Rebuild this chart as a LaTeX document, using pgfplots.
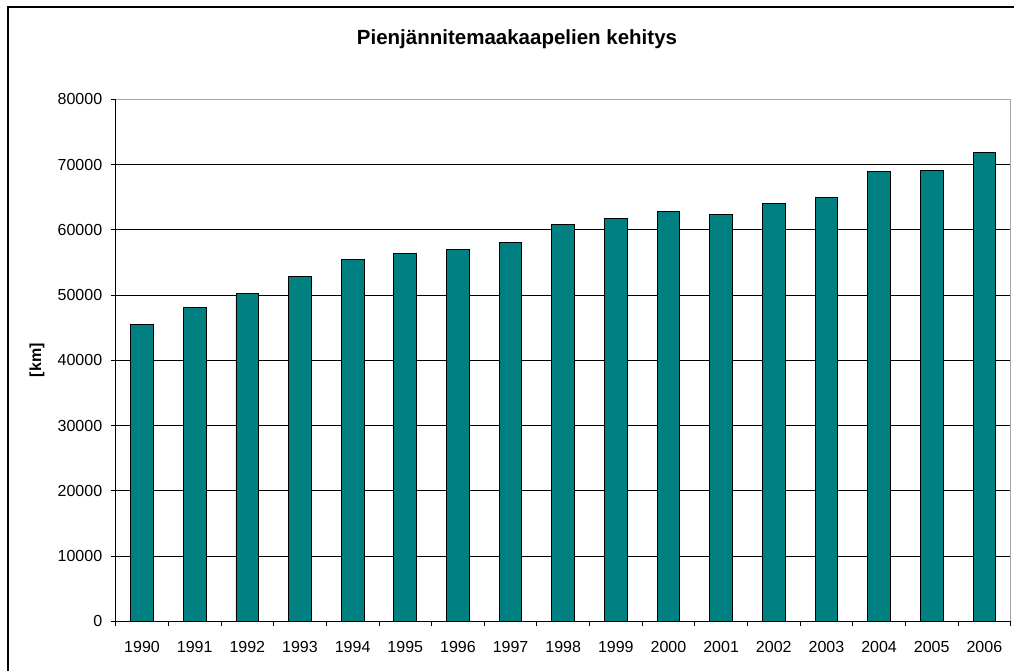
\documentclass[border=0pt]{standalone}
\usepackage{fontspec}
\setmainfont{Liberation Sans}
\usepackage{pgfplots}
\pgfplotsset{compat=1.18}
\definecolor{barteal}{HTML}{008080}
\begin{document}
\begin{tikzpicture}[x=1pt,y=1pt]
\path[use as bounding box] (0,0) rectangle (1014,671);
\draw[black, line width=1.3pt] (8,664) rectangle (1040,-30);
\node[font=\bfseries\fontsize{20.5}{24}\selectfont] at (517,632) {Pienjännitemaakaapelien kehitys};
\begin{axis}[
  at={(115.7pt,49.7pt)}, anchor=south west,
  scale only axis, width=895pt, height=522pt,
  xmin=-0.5, xmax=16.5, ymin=0, ymax=80000,
  ybar, bar width=22.7pt,
  xtick={0,...,16},
  xticklabels={1990,1991,1992,1993,1994,1995,1996,1997,1998,1999,2000,2001,2002,2003,2004,2005,2006},
  minor xtick={-0.5,0.5,...,16.5},
  ytick={0,10000,...,80000},
  xtick pos=bottom, ytick pos=left,
  scaled y ticks=false,
  yticklabel style={/pgf/number format/fixed, /pgf/number format/1000 sep={}},
  /pgf/number format/assume math mode=true,
  tick align=outside,
  major tick length=5pt, minor tick length=5pt,
  xtick style={draw=none},
  minor x tick style={draw=black, line width=0.8pt},
  y tick style={draw=black, line width=0.8pt},
  ymajorgrids, major grid style={black, line width=0.8pt},
  axis line style={draw=gray!70, line width=1pt},
  tick label style={font=\fontsize{16}{19}\selectfont},
  xticklabel style={yshift=-11pt},
  yticklabel style={xshift=-5pt},
  ylabel={[km]},
  ylabel style={at={(axis description cs:0,0.5)}, anchor=center, yshift=78.7pt, font=\bfseries\fontsize{16}{19}\selectfont},
  clip=false,
]
\addplot[fill=barteal, draw=black, line width=0.9pt] coordinates {
(0,45500) (1,48100) (2,50200) (3,52800) (4,55400) (5,56400) (6,57000) (7,58000) (8,60800)
(9,61700) (10,62800) (11,62300) (12,64100) (13,64900) (14,68900) (15,69100) (16,71900)
};
\draw[black, line width=1pt] (rel axis cs:0,1) -- (rel axis cs:0,0) -- (rel axis cs:1,0);
\end{axis}
\end{tikzpicture}
\end{document}
